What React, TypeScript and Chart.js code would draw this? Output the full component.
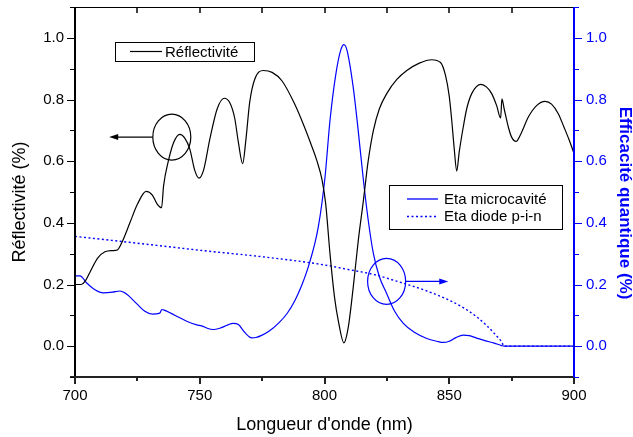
import React, { useEffect, useRef } from "react";
import { Chart, registerables } from "chart.js";

Chart.register(...registerables);

// ---- Data ----
const reflWl = [700, 702.5, 704, 706, 709, 712, 715, 717, 719, 722, 725, 728.5, 731, 733, 734.7, 735.5, 737.4, 739.5, 742, 744, 746, 748, 749.7, 751.5, 754, 757, 759.8, 762, 764, 765.5, 767.2, 768.5, 770, 772, 775.5, 779, 783, 788, 792, 795, 797, 799, 800.5, 802.2, 804, 805.5, 807.8, 809.5, 811.5, 813.5, 815.6, 817.5, 819.6, 822, 825, 829, 833, 838, 843, 846.5, 848.5, 850, 851, 852, 853, 854, 855.6, 857, 859, 862.7, 865, 867, 869, 870.6, 871.1, 872, 873.7, 875, 876.8, 878.5, 881.7, 885, 888.4, 891, 893.7, 896, 898, 900];
const reflVal = [0.2, 0.2, 0.21, 0.24, 0.285, 0.306, 0.31, 0.312, 0.34, 0.4, 0.46, 0.502, 0.49, 0.46, 0.449, 0.52, 0.6, 0.66, 0.687, 0.675, 0.64, 0.57, 0.545, 0.57, 0.67, 0.77, 0.804, 0.79, 0.74, 0.66, 0.592, 0.67, 0.79, 0.865, 0.894, 0.888, 0.86, 0.786, 0.71, 0.646, 0.6, 0.54, 0.46, 0.3, 0.16, 0.084, 0.011, 0.06, 0.19, 0.34, 0.473, 0.6, 0.7, 0.77, 0.82, 0.865, 0.894, 0.918, 0.929, 0.92, 0.878, 0.81, 0.732, 0.64, 0.568, 0.63, 0.71, 0.77, 0.819, 0.849, 0.84, 0.819, 0.78, 0.74, 0.802, 0.77, 0.71, 0.678, 0.664, 0.685, 0.743, 0.78, 0.794, 0.785, 0.754, 0.71, 0.67, 0.625];

const etaWl = [700, 702, 704.7, 708, 711.4, 715, 718, 720.5, 724.7, 728, 731, 734, 734.8, 736, 742, 745, 748.8, 750.8, 753, 755.4, 758, 761, 763.4, 765.5, 768, 770.8, 772.5, 774.8, 778, 781.5, 785, 788.2, 791, 793.5, 797.5, 800.2, 802.2, 804.5, 806.5, 807.8, 809, 811.5, 813.5, 815.6, 817.5, 819.6, 822, 824.9, 828, 831.6, 836, 841, 845, 847.6, 850, 852.5, 855.6, 858, 861, 864.3, 868, 871, 872, 900];
const etaVal = [0.228, 0.228, 0.205, 0.183, 0.173, 0.175, 0.179, 0.17, 0.138, 0.113, 0.104, 0.107, 0.119, 0.116, 0.092, 0.08, 0.069, 0.066, 0.058, 0.054, 0.058, 0.068, 0.074, 0.07, 0.045, 0.027, 0.028, 0.035, 0.05, 0.074, 0.106, 0.149, 0.2, 0.257, 0.386, 0.548, 0.732, 0.88, 0.96, 0.978, 0.96, 0.84, 0.7, 0.538, 0.41, 0.3, 0.225, 0.171, 0.115, 0.074, 0.045, 0.025, 0.016, 0.012, 0.016, 0.027, 0.036, 0.034, 0.026, 0.018, 0.01, 0.002, 0, 0];

const pinWl = [700, 725, 750, 775, 798, 810, 820, 830, 840, 850, 856, 861, 865, 868, 870, 871, 872, 900];
const pinVal = [0.356, 0.334, 0.311, 0.29, 0.266, 0.248, 0.232, 0.208, 0.182, 0.149, 0.123, 0.095, 0.067, 0.042, 0.024, 0.014, 0, 0];

// ---- Axes / labels ----
const xMajor = [700, 750, 800, 850, 900];
const xMinor = [725, 775, 825, 875];
const xTop = [725, 750, 775, 800, 825, 850, 875];
const yMajor = [0, 0.2, 0.4, 0.6, 0.8, 1.0];
const yMinor = [-0.1, 0.1, 0.3, 0.5, 0.7, 0.9, 1.1];
const xTitle = "Longueur d'onde (nm)";
const yTitle = "Réflectivité (%)";
const y2Title = "Efficacité quantique (%)";
const legendLeftLabels = ["Réflectivité"];
const legendRightLabels = ["Eta microcavité", "Eta diode p-i-n"];

// annotation marks (data coordinates): [centre wavelength, centre value, arrow tip wavelength]
const leftMark = [738.8, 0.678, 713.7];
const rightMark = [824.9, 0.21, 849.6];

const FONT = '"Liberation Sans", Arial, sans-serif';
const BLUE = "#0000ff";

const decorPlugin = {
  id: "decor",
  afterDraw(chart: any) {
    const { ctx, chartArea: ca, scales } = chart;
    const sx = scales.x, sy = scales.y, sy2 = scales.y2;
    const L = Math.round(ca.left), R = Math.round(ca.right), T = Math.round(ca.top), B = Math.round(ca.bottom);
    const line = (x1: number, y1: number, x2: number, y2: number) => {
      ctx.beginPath(); ctx.moveTo(x1, y1); ctx.lineTo(x2, y2); ctx.stroke();
    };
    ctx.save();
    // frame
    ctx.strokeStyle = "#000"; ctx.lineWidth = 1;
    line(L, T + 0.5, R, T + 0.5);
    ctx.lineWidth = 2;
    line(L, T, L, B);
    ctx.strokeStyle = "#222";
    line(L - 5, B, R, B);
    ctx.strokeStyle = BLUE;
    line(R, T, R, B + 1);

    // left ticks
    ctx.strokeStyle = "#000"; ctx.lineWidth = 1;
    yMajor.forEach(v => { const p = Math.round(sy.getPixelForValue(v)) + 0.5; line(L - 8, p, L, p); });
    yMinor.forEach(v => { const p = Math.round(sy.getPixelForValue(v)) + 0.5; line(L - 5, p, L, p); });
    // bottom ticks
    ctx.strokeStyle = "#222"; ctx.lineWidth = 2;
    xMajor.forEach(v => { const p = Math.round(sx.getPixelForValue(v)); line(p, B, p, B + 7); });
    xMinor.forEach(v => { const p = Math.round(sx.getPixelForValue(v)); line(p, B, p, B + 4); });
    // top ticks
    ctx.strokeStyle = "#000"; ctx.lineWidth = 1.5;
    xTop.forEach(v => { const p = Math.round(sx.getPixelForValue(v)); line(p, T, p, T + 6); });
    // right ticks
    ctx.strokeStyle = BLUE; ctx.lineWidth = 1;
    yMajor.forEach(v => { const p = Math.round(sy2.getPixelForValue(v)) + 0.5; line(R, p, R + 8, p); });
    yMinor.forEach(v => { const p = Math.round(sy2.getPixelForValue(v)) + 0.5; line(R, p, R + 5, p); });

    // axis titles
    ctx.fillStyle = "#000";
    ctx.font = `18px ${FONT}`;
    ctx.textAlign = "center"; ctx.textBaseline = "middle";
    ctx.fillText(xTitle, (L + R) / 2, B + 48);
    ctx.save();
    ctx.translate(20, (T + B) / 2 + 10);
    ctx.rotate(-Math.PI / 2);
    ctx.fillText(yTitle, 0, 0);
    ctx.restore();
    ctx.save();
    ctx.fillStyle = BLUE;
    ctx.font = `bold 17px ${FONT}`;
    ctx.translate(625, (T + B) / 2 + 11);
    ctx.rotate(Math.PI / 2);
    ctx.fillText(y2Title, 0, 0);
    ctx.restore();

    // legends
    ctx.font = `15px ${FONT}`;
    ctx.textAlign = "left"; ctx.textBaseline = "alphabetic";
    ctx.strokeStyle = "#000"; ctx.lineWidth = 1;
    ctx.strokeRect(L + 40.5, T + 35.5, 139, 19);
    ctx.lineWidth = 1.2;
    line(L + 55, T + 44.5, L + 87, T + 44.5);
    ctx.fillStyle = "#000";
    ctx.fillText(legendLeftLabels[0], L + 90, T + 50);

    ctx.lineWidth = 1;
    ctx.strokeRect(L + 314.5, T + 178.5, 173, 44);
    ctx.strokeStyle = BLUE; ctx.lineWidth = 1.3;
    line(L + 332, T + 192, L + 363, T + 192);
    ctx.setLineDash([2, 2.5]);
    line(L + 332, T + 209.5, L + 363, T + 209.5);
    ctx.setLineDash([]);
    ctx.fillText(legendRightLabels[0], L + 369, T + 196.5);
    ctx.fillText(legendRightLabels[1], L + 369, T + 214);

    // ellipses + arrows
    const mark = (m: number[], scaleY: any, color: string, dir: number) => {
      const cx = sx.getPixelForValue(m[0]);
      const cy = scaleY.getPixelForValue(m[1]);
      const tip = sx.getPixelForValue(m[2]);
      ctx.strokeStyle = color; ctx.fillStyle = color; ctx.lineWidth = 1.2;
      ctx.beginPath(); ctx.ellipse(cx, cy, 19, 23, 0, 0, Math.PI * 2); ctx.stroke();
      const start = cx + dir * 19;
      line(start, cy, tip - dir * 7, cy);
      ctx.beginPath();
      ctx.moveTo(tip, cy);
      ctx.lineTo(tip - dir * 9, cy - 3);
      ctx.lineTo(tip - dir * 9, cy + 3);
      ctx.closePath(); ctx.fill();
    };
    mark(leftMark, sy, "#000", -1);
    mark(rightMark, sy2, BLUE, 1);
    ctx.restore();
  },
};

export default function App() {
  const ref = useRef<HTMLCanvasElement | null>(null);
  useEffect(() => {
    if (!ref.current) return;
    Chart.defaults.font.family = FONT;
    const toPts = (xs: number[], ys: number[]) => xs.map((x, i) => ({ x, y: ys[i] }));
    const noPadV = (ax: any) => { ax.paddingTop = 0; ax.paddingBottom = 0; };
    const chart = new Chart(ref.current, {
      type: "line",
      data: {
        datasets: [
          { label: legendLeftLabels[0], data: toPts(reflWl, reflVal), yAxisID: "y", borderColor: "#000", borderWidth: 1.2, pointRadius: 0, cubicInterpolationMode: "monotone", fill: false },
          { label: legendRightLabels[0], data: toPts(etaWl, etaVal), yAxisID: "y2", borderColor: BLUE, borderWidth: 1.2, pointRadius: 0, cubicInterpolationMode: "monotone", fill: false },
          { label: legendRightLabels[1], data: toPts(pinWl, pinVal), yAxisID: "y2", borderColor: BLUE, borderWidth: 1.4, borderDash: [2, 2.5], pointRadius: 0, cubicInterpolationMode: "monotone", fill: false },
        ],
      },
      options: {
        responsive: false,
        animation: false,
        layout: { padding: { top: 7, left: 0, right: 0, bottom: 0 }, autoPadding: false },
        plugins: { legend: { display: false }, tooltip: { enabled: false } },
        scales: {
          x: {
            type: "linear", min: 700, max: 900,
            grid: { display: false, drawTicks: false },
            border: { display: false },
            afterBuildTicks: (ax: any) => { ax.ticks = xMajor.map(v => ({ value: v })); },
            ticks: { color: "#000", font: { size: 15 }, padding: 10, callback: (v: any) => String(v), maxRotation: 0 },
            afterFit: (ax: any) => { ax.height = 60; ax.paddingLeft = 0; ax.paddingRight = 0; },
          },
          y: {
            type: "linear", position: "left", min: -0.1, max: 1.1,
            grid: { display: false, drawTicks: false },
            border: { display: false },
            afterBuildTicks: (ax: any) => { ax.ticks = yMajor.map(v => ({ value: v })); },
            ticks: { color: "#000", font: { size: 15 }, padding: 11, callback: (v: any) => Number(v).toFixed(1) },
            afterFit: (ax: any) => { ax.width = 75; noPadV(ax); },
          },
          y2: {
            type: "linear", position: "right", min: -0.1, max: 1.1,
            grid: { display: false, drawTicks: false },
            border: { display: false },
            afterBuildTicks: (ax: any) => { ax.ticks = yMajor.map(v => ({ value: v })); },
            ticks: { color: BLUE, font: { size: 15 }, padding: 12, callback: (v: any) => Number(v).toFixed(1) },
            afterFit: (ax: any) => { ax.width = 59; noPadV(ax); },
          },
        },
      } as any,
      plugins: [decorPlugin],
    });
    return () => chart.destroy();
  }, []);
  return (
    <div style={{ position: "absolute", left: 0, top: 0, width: 633, height: 437, background: "#fff" }}>
      <canvas ref={ref} width={633} height={437} />
    </div>
  );
}
